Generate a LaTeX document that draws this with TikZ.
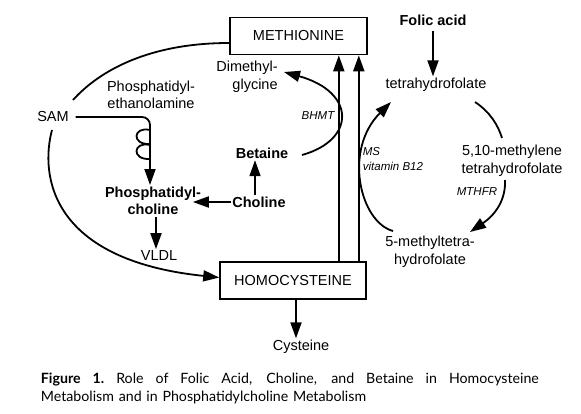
\documentclass[tikz,border=0pt]{standalone}
\usepackage{fontspec}
\setmainfont{Liberation Sans}
\newfontfamily\capfont{Lato}
\usetikzlibrary{arrows.meta}
\begin{document}
\begin{tikzpicture}[x=1pt,y=-1pt,line width=1.8pt,
  font=\fontsize{14.5}{17.5}\selectfont,
  arr/.style={-{Triangle[length=16pt,width=11pt]}},
  box/.style={draw, line width=1.6pt, minimum height=37pt, inner sep=0pt},
  lbl/.style={inner sep=1pt, align=center},
  bold/.style={lbl, font=\fontsize{14.5}{17.5}\selectfont\bfseries},
  enz/.style={inner sep=0pt, align=left, font=\fontsize{11.5}{15}\selectfont\itshape}]
\useasboundingbox (0,0) rectangle (581,414);
\node[box, minimum width=137pt] (met) at (298.5,36) {METHIONINE};
\node[box, minimum width=146pt] (hcy) at (293,280.5) {HOMOCYSTEINE};
\node[bold] (folic) at (433,20) {Folic acid};
\node[lbl] (thf) at (436,85) {tetrahydrofolate};
\node[lbl] (mlene) at (512,161) {5,10-methylene\\tetrahydrofolate};
\node[lbl] (mthf) at (430,252) {5-methyltetra-\\hydrofolate};
\node[lbl, align=right] (dmg) at (247,77) {Dimethyl-\\glycine};
\node[bold] (bet) at (262,153) {Betaine};
\node[bold] (cho) at (259,202) {Choline};
\node[bold] (pc) at (153,201) {Phosphatidyl-\\choline};
\node[lbl] (pe) at (151,95) {Phosphatidyl-\\ethanolamine};
\node[lbl] (sam) at (53,117) {SAM};
\node[lbl] (vldl) at (159,256) {VLDL};
\node[lbl] (cys) at (301,347) {Cysteine};
\node[enz] (bhmt) at (318,116) {BHMT};
\node[enz, anchor=west] (ms) at (362,159) {MS\\vitamin B12};
\node[enz] (mthfr) at (477,192) {MTHFR};
\node[anchor=north west, inner sep=0pt, text width=498pt, align=left,
  font=\capfont\fontsize{14.2}{18}\selectfont] (cap) at (40,372)
  {\hbox to 498pt{\spaceskip=0.25em plus 1fil\xspaceskip=0.25em plus 1fil\relax
   \textbf{Figure 1.} Role of Folic Acid, Choline, and Betaine in Homocysteine}\\
   Metabolism and in Phosphatidylcholine Metabolism};
\draw[arr] ([xshift=-28pt]hcy.north east) -- ([xshift=-28pt]hcy.north east |- met.south);
\draw[arr] ([xshift=-8pt]hcy.north east) -- ([xshift=-8pt]hcy.north east |- met.south);
\draw[arr] ([xshift=3pt]hcy.south) -- ([xshift=3pt]hcy.south |- cys.north);
\draw[arr] ([yshift=-4pt]folic.south) -- (folic.south |- thf.north);
\draw[arr] ([xshift=-4pt]cho.north) -- ([xshift=-4pt]cho.north |- bet.south);
\draw[arr] (cho.west) -- ([xshift=-10pt]pc.east |- cho.west);
\draw[arr] ([xshift=3pt]pc.south) -- ([xshift=3pt]pc.south |- vldl.north);
\draw[arr, rounded corners=8pt] ([xshift=5pt]sam.east) -| ([xshift=-3pt]pc.north);
\draw (150,130) .. controls (133,126) and (131,145) .. (150,144);
\draw (150,145) .. controls (133,141) and (131,160) .. (150,159);
\draw[arr] ([shift={(40,2)}]bet.center) .. controls (356,140) and (356,92) .. ([shift={(37,-5)}]dmg.center);
\draw[arr] ([shift={(-37,-21)}]mthf.center) .. controls (360,222) and (343,150) .. ([shift={(-45,17)}]thf.center);
\draw ([shift={(39,17)}]thf.center) .. controls (490,112) and (498,125) .. ([shift={(-10,-23)}]mlene.center);
\draw[arr] ([shift={(-7,19)}]mlene.center) .. controls (506,200) and (495,215) .. ([shift={(40,-20)}]mthf.center);
\draw ([yshift=-7pt]met.west) .. controls (150,43) and (100,70) .. ([shift={(20,-17)}]sam.center);
\draw[arr] ([shift={(-1,13)}]sam.center) .. controls (40,175) and (50,260) .. ([yshift=3pt]hcy.west);
\end{tikzpicture}
\end{document}
